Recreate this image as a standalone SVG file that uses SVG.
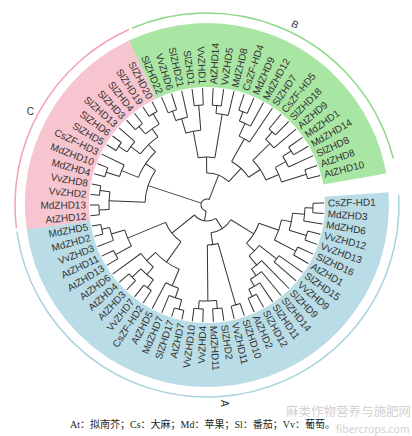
<svg xmlns="http://www.w3.org/2000/svg" width="412" height="436" viewBox="0 0 412 436">
<style>
.t{font-family:"Liberation Sans",Arial,sans-serif;font-size:10px;fill:#333;dominant-baseline:central}
.e{text-anchor:end}
.br path,.br circle{fill:none;stroke:#333;stroke-width:1}
.band{fill:none;stroke-width:64}
.ring{fill:none;stroke-width:1.5}
.lt{font-family:"Liberation Sans",Arial,sans-serif;font-size:10px;fill:#333;text-anchor:middle;dominant-baseline:central}
</style>
<rect width="412" height="436" fill="#fff"/>
<g transform="translate(207,205)">
<g id="bands">
<circle class="band" r="150" stroke="#b9dce6" transform="rotate(-4)" stroke-dasharray="461.3 2000"/>
<circle class="band" r="150" stroke="#f7c5cf" transform="rotate(172.2)" stroke-dasharray="189.5 2000"/>
<circle class="band" r="150" stroke="#a9e6a4" transform="rotate(244.6)" stroke-dasharray="275.9 2000"/>
<circle class="ring" r="192" stroke="#a9d2de" transform="rotate(-3)" stroke-dasharray="586.4 2000"/>
<circle class="ring" r="192" stroke="#f0a3b1" transform="rotate(173)" stroke-dasharray="244.6 2000"/>
<circle class="ring" r="192" stroke="#8ad985" transform="rotate(247)" stroke-dasharray="331.8 2000"/>
</g>
<g id="clade-labels">
<text class="lt" transform="rotate(85) translate(199,0) rotate(-85) rotate(90)">A</text>
<text class="lt" transform="rotate(296) translate(201,0) rotate(90)">B</text>
<text class="lt" transform="rotate(208) translate(200,0) rotate(-208)">C</text>
</g>
<g id="connectors" class="br">
<path d="M106 0H117" transform="rotate(-1)"/><path d="M106 0H117" transform="rotate(4.17)"/><path d="M98 0H117" transform="rotate(9.34)"/><path d="M104 0H117" transform="rotate(14.51)"/><path d="M104 0H117" transform="rotate(19.68)"/><path d="M100 0H117" transform="rotate(24.85)"/><path d="M100 0H117" transform="rotate(30.02)"/><path d="M88 0H117" transform="rotate(35.19)"/><path d="M88 0H117" transform="rotate(40.36)"/><path d="M78 0H117" transform="rotate(45.53)"/><path d="M86 0H117" transform="rotate(50.7)"/><path d="M94 0H117" transform="rotate(55.87)"/><path d="M102 0H117" transform="rotate(61.04)"/><path d="M102 0H117" transform="rotate(66.21)"/><path d="M104 0H117" transform="rotate(71.38)"/><path d="M104 0H117" transform="rotate(76.55)"/><path d="M104 0H117" transform="rotate(81.72)"/><path d="M104 0H117" transform="rotate(86.89)"/><path d="M104 0H117" transform="rotate(92.06)"/><path d="M104 0H117" transform="rotate(97.23)"/><path d="M108 0H117" transform="rotate(102.4)"/><path d="M108 0H117" transform="rotate(107.57)"/><path d="M98 0H117" transform="rotate(112.74)"/><path d="M88 0H117" transform="rotate(117.91)"/><path d="M102 0H117" transform="rotate(123.08)"/><path d="M102 0H117" transform="rotate(128.25)"/><path d="M104 0H117" transform="rotate(133.42)"/><path d="M104 0H117" transform="rotate(138.59)"/><path d="M82 0H117" transform="rotate(143.76)"/><path d="M104 0H117" transform="rotate(148.93)"/><path d="M104 0H117" transform="rotate(154.1)"/><path d="M100 0H117" transform="rotate(159.27)"/><path d="M108 0H117" transform="rotate(164.44)"/><path d="M108 0H117" transform="rotate(169.61)"/>
<path d="M108 0H117" transform="rotate(174.78)"/><path d="M108 0H117" transform="rotate(179.95)"/><path d="M108 0H117" transform="rotate(185.12)"/><path d="M108 0H117" transform="rotate(190.29)"/><path d="M106 0H117" transform="rotate(195.46)"/><path d="M106 0H117" transform="rotate(200.63)"/><path d="M92 0H117" transform="rotate(205.8)"/><path d="M106 0H117" transform="rotate(210.97)"/><path d="M106 0H117" transform="rotate(216.14)"/><path d="M96 0H117" transform="rotate(221.31)"/><path d="M104 0H117" transform="rotate(226.48)"/><path d="M104 0H117" transform="rotate(231.65)"/><path d="M106 0H117" transform="rotate(236.82)"/><path d="M106 0H117" transform="rotate(241.99)"/>
<path d="M100 0H117" transform="rotate(247.16)"/><path d="M100 0H117" transform="rotate(252.33)"/><path d="M90 0H117" transform="rotate(257.5)"/><path d="M100 0H117" transform="rotate(262.67)"/><path d="M100 0H117" transform="rotate(267.84)"/><path d="M100 0H117" transform="rotate(273.01)"/><path d="M100 0H117" transform="rotate(278.18)"/><path d="M92 0H117" transform="rotate(283.35)"/><path d="M100 0H117" transform="rotate(288.52)"/><path d="M100 0H117" transform="rotate(293.69)"/><path d="M90 0H117" transform="rotate(298.86)"/><path d="M76 0H117" transform="rotate(304.03)"/><path d="M98 0H117" transform="rotate(309.2)"/><path d="M98 0H117" transform="rotate(314.37)"/><path d="M88 0H117" transform="rotate(319.54)"/><path d="M100 0H117" transform="rotate(324.71)"/><path d="M100 0H117" transform="rotate(329.88)"/><path d="M90 0H117" transform="rotate(335.05)"/><path d="M104 0H117" transform="rotate(340.22)"/><path d="M104 0H117" transform="rotate(345.39)"/>
<path d="M98 0H106" transform="rotate(1.585)"/><path d="M86 0H98" transform="rotate(5.46)"/><path d="M86 0H104" transform="rotate(17.1)"/><path d="M76 0H86" transform="rotate(11.28)"/><path d="M76 0H100" transform="rotate(27.44)"/><path d="M55 0H76" transform="rotate(19.36)"/><path d="M66 0H88" transform="rotate(37.78)"/><path d="M94 0H102" transform="rotate(63.63)"/><path d="M86 0H94" transform="rotate(59.75)"/><path d="M78 0H86" transform="rotate(55.23)"/><path d="M66 0H78" transform="rotate(50.38)"/><path d="M55 0H66" transform="rotate(44.08)"/><path d="M28 0H55" transform="rotate(31.72)"/><path d="M40 0H104" transform="rotate(73.97)"/><path d="M96 0H104" transform="rotate(84.31)"/><path d="M96 0H104" transform="rotate(94.65)"/><path d="M40 0H96" transform="rotate(89.48)"/><path d="M28 0H40" transform="rotate(81.73)"/><path d="M16 0H28" transform="rotate(56.73)"/>
<path d="M98 0H108" transform="rotate(104.99)"/><path d="M88 0H98" transform="rotate(108.87)"/><path d="M70 0H88" transform="rotate(113.39)"/><path d="M92 0H102" transform="rotate(125.67)"/><path d="M92 0H104" transform="rotate(136.01)"/><path d="M82 0H92" transform="rotate(130.84)"/><path d="M70 0H82" transform="rotate(137.3)"/><path d="M45 0H70" transform="rotate(125.35)"/><path d="M86 0H104" transform="rotate(151.52)"/><path d="M100 0H108" transform="rotate(167.03)"/><path d="M86 0H100" transform="rotate(163.15)"/><path d="M45 0H86" transform="rotate(157.34)"/><path d="M16 0H45" transform="rotate(141.35)"/><path d="M6 0H16" transform="rotate(99.04)"/>
<path d="M98 0H108" transform="rotate(177.37)"/><path d="M98 0H108" transform="rotate(187.71)"/><path d="M62 0H98" transform="rotate(182.54)"/><path d="M92 0H106" transform="rotate(198.05)"/><path d="M74 0H92" transform="rotate(201.93)"/><path d="M96 0H106" transform="rotate(213.56)"/><path d="M84 0H96" transform="rotate(217.44)"/><path d="M94 0H104" transform="rotate(229.07)"/><path d="M94 0H106" transform="rotate(239.41)"/><path d="M84 0H94" transform="rotate(234.24)"/><path d="M74 0H84" transform="rotate(225.84)"/><path d="M62 0H74" transform="rotate(213.89)"/><path d="M6 0H62" transform="rotate(198.22)"/>
<path d="M90 0H100" transform="rotate(249.75)"/><path d="M75 0H90" transform="rotate(253.63)"/><path d="M75 0H100" transform="rotate(265.26)"/><path d="M48 0H75" transform="rotate(259.45)"/><path d="M92 0H100" transform="rotate(275.6)"/><path d="M48 0H92" transform="rotate(279.48)"/><path d="M32 0H48" transform="rotate(269.47)"/><path d="M90 0H100" transform="rotate(291.11)"/><path d="M76 0H90" transform="rotate(294.99)"/><path d="M50 0H76" transform="rotate(299.51)"/><path d="M88 0H98" transform="rotate(311.79)"/><path d="M64 0H88" transform="rotate(315.67)"/><path d="M90 0H100" transform="rotate(327.3)"/><path d="M78 0H90" transform="rotate(331.18)"/><path d="M78 0H104" transform="rotate(342.81)"/><path d="M64 0H78" transform="rotate(337)"/><path d="M50 0H64" transform="rotate(326.34)"/><path d="M32 0H50" transform="rotate(312.93)"/><path d="M6 0H32" transform="rotate(291.2)"/>
<circle r="106" transform="rotate(-1)" stroke-dasharray="9.56 2000"/><circle r="98" transform="rotate(1.585)" stroke-dasharray="13.26 2000"/><circle r="104" transform="rotate(14.51)" stroke-dasharray="9.38 2000"/><circle r="86" transform="rotate(5.46)" stroke-dasharray="17.47 2000"/><circle r="100" transform="rotate(24.85)" stroke-dasharray="9.02 2000"/><circle r="76" transform="rotate(11.28)" stroke-dasharray="21.44 2000"/><circle r="88" transform="rotate(35.19)" stroke-dasharray="7.94 2000"/><circle r="102" transform="rotate(61.04)" stroke-dasharray="9.2 2000"/><circle r="94" transform="rotate(55.87)" stroke-dasharray="12.73 2000"/><circle r="86" transform="rotate(50.7)" stroke-dasharray="13.58 2000"/><circle r="78" transform="rotate(45.53)" stroke-dasharray="13.21 2000"/><circle r="66" transform="rotate(37.78)" stroke-dasharray="14.51 2000"/><circle r="55" transform="rotate(19.36)" stroke-dasharray="23.73 2000"/><circle r="104" transform="rotate(71.38)" stroke-dasharray="9.38 2000"/><circle r="104" transform="rotate(81.72)" stroke-dasharray="9.38 2000"/><circle r="104" transform="rotate(92.06)" stroke-dasharray="9.38 2000"/><circle r="96" transform="rotate(84.31)" stroke-dasharray="17.32 2000"/><circle r="40" transform="rotate(73.97)" stroke-dasharray="10.83 2000"/><circle r="28" transform="rotate(31.72)" stroke-dasharray="24.44 2000"/>
<circle r="108" transform="rotate(102.4)" stroke-dasharray="9.75 2000"/><circle r="98" transform="rotate(104.99)" stroke-dasharray="13.26 2000"/><circle r="88" transform="rotate(108.87)" stroke-dasharray="13.88 2000"/><circle r="102" transform="rotate(123.08)" stroke-dasharray="9.2 2000"/><circle r="104" transform="rotate(133.42)" stroke-dasharray="9.38 2000"/><circle r="92" transform="rotate(125.67)" stroke-dasharray="16.6 2000"/><circle r="82" transform="rotate(130.84)" stroke-dasharray="18.49 2000"/><circle r="70" transform="rotate(113.39)" stroke-dasharray="29.21 2000"/><circle r="104" transform="rotate(148.93)" stroke-dasharray="9.38 2000"/><circle r="108" transform="rotate(164.44)" stroke-dasharray="9.75 2000"/><circle r="100" transform="rotate(159.27)" stroke-dasharray="13.54 2000"/><circle r="86" transform="rotate(151.52)" stroke-dasharray="17.46 2000"/><circle r="45" transform="rotate(125.35)" stroke-dasharray="25.12 2000"/><circle r="16" transform="rotate(56.73)" stroke-dasharray="23.63 2000"/>
<circle r="108" transform="rotate(174.78)" stroke-dasharray="9.75 2000"/><circle r="108" transform="rotate(185.12)" stroke-dasharray="9.75 2000"/><circle r="98" transform="rotate(177.37)" stroke-dasharray="17.69 2000"/><circle r="106" transform="rotate(195.46)" stroke-dasharray="9.56 2000"/><circle r="92" transform="rotate(198.05)" stroke-dasharray="12.44 2000"/><circle r="106" transform="rotate(210.97)" stroke-dasharray="9.56 2000"/><circle r="96" transform="rotate(213.56)" stroke-dasharray="12.98 2000"/><circle r="104" transform="rotate(226.48)" stroke-dasharray="9.38 2000"/><circle r="106" transform="rotate(236.82)" stroke-dasharray="9.56 2000"/><circle r="94" transform="rotate(229.07)" stroke-dasharray="16.96 2000"/><circle r="84" transform="rotate(217.44)" stroke-dasharray="24.63 2000"/><circle r="74" transform="rotate(201.93)" stroke-dasharray="30.88 2000"/><circle r="62" transform="rotate(182.54)" stroke-dasharray="33.92 2000"/>
<circle r="100" transform="rotate(247.16)" stroke-dasharray="9.02 2000"/><circle r="90" transform="rotate(249.75)" stroke-dasharray="12.17 2000"/><circle r="100" transform="rotate(262.67)" stroke-dasharray="9.02 2000"/><circle r="75" transform="rotate(253.63)" stroke-dasharray="15.22 2000"/><circle r="100" transform="rotate(273.01)" stroke-dasharray="9.02 2000"/><circle r="92" transform="rotate(275.6)" stroke-dasharray="12.44 2000"/><circle r="48" transform="rotate(259.45)" stroke-dasharray="16.78 2000"/><circle r="100" transform="rotate(288.52)" stroke-dasharray="9.02 2000"/><circle r="90" transform="rotate(291.11)" stroke-dasharray="12.17 2000"/><circle r="76" transform="rotate(294.99)" stroke-dasharray="11.99 2000"/><circle r="98" transform="rotate(309.2)" stroke-dasharray="8.84 2000"/><circle r="88" transform="rotate(311.79)" stroke-dasharray="11.9 2000"/><circle r="100" transform="rotate(324.71)" stroke-dasharray="9.02 2000"/><circle r="90" transform="rotate(327.3)" stroke-dasharray="12.17 2000"/><circle r="104" transform="rotate(340.22)" stroke-dasharray="9.38 2000"/><circle r="78" transform="rotate(331.18)" stroke-dasharray="15.83 2000"/><circle r="64" transform="rotate(315.67)" stroke-dasharray="23.83 2000"/><circle r="50" transform="rotate(299.51)" stroke-dasharray="23.41 2000"/><circle r="32" transform="rotate(269.47)" stroke-dasharray="24.27 2000"/><circle r="6" transform="rotate(99.04)" stroke-dasharray="20.12 2000"/>
</g>
<g id="leaves" class="t">
<g id="CsZF-HD1"><text x="121" transform="rotate(-1)">CsZF-HD1</text></g>
<g id="MdZHD3"><text x="121" transform="rotate(4.17)">MdZHD3</text></g>
<g id="MdZHD6"><text x="121" transform="rotate(9.34)">MdZHD6</text></g>
<g id="VvZHD12"><text x="121" transform="rotate(14.51)">VvZHD12</text></g>
<g id="VvZHD13"><text x="121" transform="rotate(19.68)">VvZHD13</text></g>
<g id="SlZHD16"><text x="121" transform="rotate(24.85)">SlZHD16</text></g>
<g id="AtZHD1"><text x="121" transform="rotate(30.02)">AtZHD1</text></g>
<g id="SlZHD15"><text x="121" transform="rotate(35.19)">SlZHD15</text></g>
<g id="VvZHD9"><text x="121" transform="rotate(40.36)">VvZHD9</text></g>
<g id="SlZHD9"><text x="121" transform="rotate(45.53)">SlZHD9</text></g>
<g id="SlZHD14"><text x="121" transform="rotate(50.7)">SlZHD14</text></g>
<g id="SlZHD11"><text x="121" transform="rotate(55.87)">SlZHD11</text></g>
<g id="SlZHD12"><text x="121" transform="rotate(61.04)">SlZHD12</text></g>
<g id="AtZHD2"><text x="121" transform="rotate(66.21)">AtZHD2</text></g>
<g id="SlZHD10"><text x="121" transform="rotate(71.38)">SlZHD10</text></g>
<g id="VvZHD11"><text x="121" transform="rotate(76.55)">VvZHD11</text></g>
<g id="SlZHD2"><text x="121" transform="rotate(81.72)">SlZHD2</text></g>
<g id="MdZHD11"><text x="121" transform="rotate(86.89)">MdZHD11</text></g>
<g id="VvZHD4"><text class="e" x="-121" transform="rotate(-87.94)">VvZHD4</text></g>
<g id="VvZHD10"><text class="e" x="-121" transform="rotate(-82.77)">VvZHD10</text></g>
<g id="AtZHD7"><text class="e" x="-121" transform="rotate(-77.6)">AtZHD7</text></g>
<g id="SlZHD17"><text class="e" x="-121" transform="rotate(-72.43)">SlZHD17</text></g>
<g id="MdZHD7"><text class="e" x="-121" transform="rotate(-67.26)">MdZHD7</text></g>
<g id="AtZHD5"><text class="e" x="-121" transform="rotate(-62.09)">AtZHD5</text></g>
<g id="CsZF-HD2"><text class="e" x="-121" transform="rotate(-56.92)">CsZF-HD2</text></g>
<g id="VvZHD7"><text class="e" x="-121" transform="rotate(-51.75)">VvZHD7</text></g>
<g id="AtZHD3"><text class="e" x="-121" transform="rotate(-46.58)">AtZHD3</text></g>
<g id="AtZHD4"><text class="e" x="-121" transform="rotate(-41.41)">AtZHD4</text></g>
<g id="AtZHD6"><text class="e" x="-121" transform="rotate(-36.24)">AtZHD6</text></g>
<g id="AtZHD13"><text class="e" x="-121" transform="rotate(-31.07)">AtZHD13</text></g>
<g id="AtZHD11"><text class="e" x="-121" transform="rotate(-25.9)">AtZHD11</text></g>
<g id="VvZHD3"><text class="e" x="-121" transform="rotate(-20.73)">VvZHD3</text></g>
<g id="MdZHD2"><text class="e" x="-121" transform="rotate(-15.56)">MdZHD2</text></g>
<g id="MdZHD5"><text class="e" x="-121" transform="rotate(-10.39)">MdZHD5</text></g>
<g id="AtZHD12"><text class="e" x="-121" transform="rotate(-5.22)">AtZHD12</text></g>
<g id="MdZHD13"><text class="e" x="-121" transform="rotate(-0.05)">MdZHD13</text></g>
<g id="VvZHD2"><text class="e" x="-121" transform="rotate(5.12)">VvZHD2</text></g>
<g id="VvZHD8"><text class="e" x="-121" transform="rotate(10.29)">VvZHD8</text></g>
<g id="MdZHD4"><text class="e" x="-121" transform="rotate(15.46)">MdZHD4</text></g>
<g id="MdZHD10"><text class="e" x="-121" transform="rotate(20.63)">MdZHD10</text></g>
<g id="CsZF-HD3"><text class="e" x="-121" transform="rotate(25.8)">CsZF-HD3</text></g>
<g id="SlZHD5"><text class="e" x="-121" transform="rotate(30.97)">SlZHD5</text></g>
<g id="SlZHD6"><text class="e" x="-121" transform="rotate(36.14)">SlZHD6</text></g>
<g id="SlZHD13"><text class="e" x="-121" transform="rotate(41.31)">SlZHD13</text></g>
<g id="SlZHD3"><text class="e" x="-121" transform="rotate(46.48)">SlZHD3</text></g>
<g id="SlZHD4"><text class="e" x="-121" transform="rotate(51.65)">SlZHD4</text></g>
<g id="SlZHD19"><text class="e" x="-121" transform="rotate(56.82)">SlZHD19</text></g>
<g id="SlZHD20"><text class="e" x="-121" transform="rotate(61.99)">SlZHD20</text></g>
<g id="SlZHD22"><text class="e" x="-121" transform="rotate(67.16)">SlZHD22</text></g>
<g id="VvZHD6"><text class="e" x="-121" transform="rotate(72.33)">VvZHD6</text></g>
<g id="SlZHD21"><text class="e" x="-121" transform="rotate(77.5)">SlZHD21</text></g>
<g id="SlZHD1"><text class="e" x="-121" transform="rotate(82.67)">SlZHD1</text></g>
<g id="VvZHD1"><text class="e" x="-121" transform="rotate(87.84)">VvZHD1</text></g>
<g id="AtZHD14"><text x="121" transform="rotate(273.01)">AtZHD14</text></g>
<g id="VvZHD5"><text x="121" transform="rotate(278.18)">VvZHD5</text></g>
<g id="MdZHD8"><text x="121" transform="rotate(283.35)">MdZHD8</text></g>
<g id="CsZF-HD4"><text x="121" transform="rotate(288.52)">CsZF-HD4</text></g>
<g id="MdZHD9"><text x="121" transform="rotate(293.69)">MdZHD9</text></g>
<g id="MdZHD12"><text x="121" transform="rotate(298.86)">MdZHD12</text></g>
<g id="SlZHD7"><text x="121" transform="rotate(304.03)">SlZHD7</text></g>
<g id="CsZF-HD5"><text x="121" transform="rotate(309.2)">CsZF-HD5</text></g>
<g id="SlZHD18"><text x="121" transform="rotate(314.37)">SlZHD18</text></g>
<g id="AtZHD9"><text x="121" transform="rotate(319.54)">AtZHD9</text></g>
<g id="MdZHD1"><text x="121" transform="rotate(324.71)">MdZHD1</text></g>
<g id="MdZHD14"><text x="121" transform="rotate(329.88)">MdZHD14</text></g>
<g id="SlZHD8"><text x="121" transform="rotate(335.05)">SlZHD8</text></g>
<g id="AtZHD8"><text x="121" transform="rotate(340.22)">AtZHD8</text></g>
<g id="AtZHD10"><text x="121" transform="rotate(345.39)">AtZHD10</text></g>
</g>
</g>
<g id="watermark" font-family="'Noto Sans CJK SC',sans-serif" fill="#d2d2d2">
<text x="286" y="416" font-size="12.5">麻类作物营养与施肥网</text>
<text x="336" y="433" font-size="10.5">fibercrops.com</text>
</g>
<text id="caption" x="70" y="428" font-family="'Liberation Serif','Noto Sans CJK SC',serif" font-size="10" fill="#222">At：拟南芥；Cs：大麻；Md：苹果；Sl：番茄；Vv：葡萄。</text>
</svg>
